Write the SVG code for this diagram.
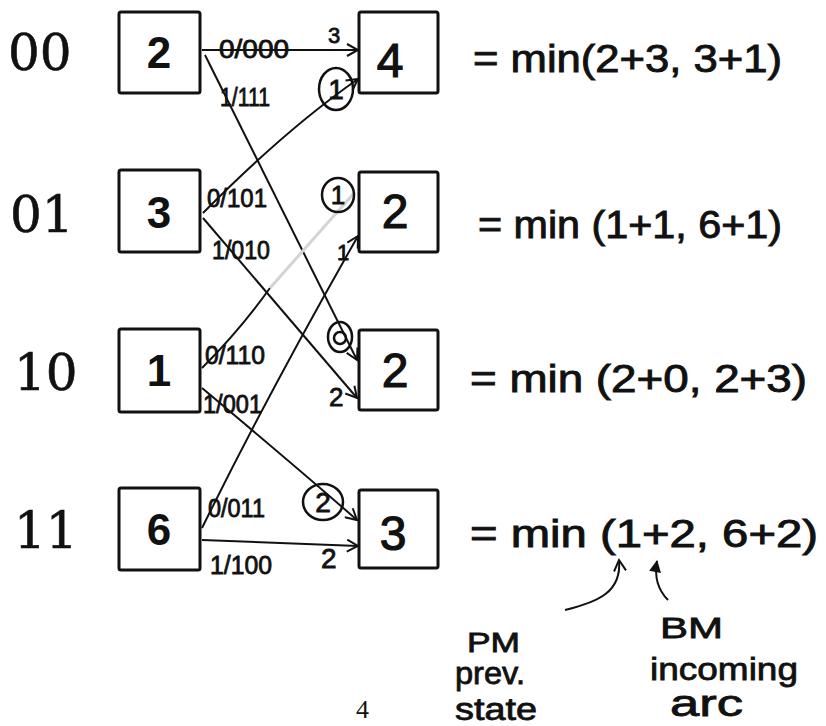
<svg xmlns="http://www.w3.org/2000/svg" width="826" height="726" viewBox="0 0 826 726">
<style>
.box{fill:#fff;stroke:#111;stroke-width:3}
.state{font-family:"DejaVu Serif",serif;font-size:50px;fill:#111;stroke:#111;stroke-width:0.6}
.pm{font-family:"Liberation Sans",Arial,sans-serif;font-weight:bold;font-size:44px;fill:#111;text-anchor:middle}
.hw{font-family:"Liberation Sans",Arial,sans-serif;fill:#111;stroke:#111;stroke-width:0.8}
.val{font-size:48px;text-anchor:middle;stroke-width:1.2}
.lbl{font-size:25px}
.eq{font-size:38px;stroke-width:0.9}
.edge{fill:none;stroke:#111;stroke-width:2}
.circ{fill:none;stroke:#111;stroke-width:2.5}
</style>
<defs>
<marker id="arr" viewBox="0 0 14 14" refX="12" refY="7" markerWidth="14" markerHeight="14" markerUnits="userSpaceOnUse" orient="auto">
<path d="M1,1 L12,7 L1,13" fill="none" stroke="#111" stroke-width="2"/>
</marker>
<marker id="tri" viewBox="0 0 14 14" refX="12" refY="7" markerWidth="14" markerHeight="14" markerUnits="userSpaceOnUse" orient="auto">
<path d="M1,1 L13,7 L1,13 Z" fill="#111"/>
</marker>
</defs>

<g id="connectors">
<path class="edge" d="M202,50 L358,50" marker-end="url(#arr)"/>
<path class="edge" d="M205,55 L357,360" marker-end="url(#arr)"/>
<path class="edge" d="M203,213 Q285,130 358,79" marker-end="url(#arr)"/>
<path class="edge" d="M203,218 L357,398" marker-end="url(#arr)"/>
<path class="edge" d="M202,368 Q240,330 270,288"/>
<path d="M270,288 L355,192" fill="none" stroke="#d4d4d4" stroke-width="3"/>
<path class="edge" d="M202,388 Q300,470 357,520" marker-end="url(#arr)"/>
<path class="edge" d="M202,528 Q270,390 358,236" marker-end="url(#arr)"/>
<path class="edge" d="M202,540 L358,546" marker-end="url(#arr)"/>

<g class="hw lbl">
<text x="219" y="58" textLength="70" lengthAdjust="spacingAndGlyphs">0/000</text>
<text x="328" y="43" font-size="22">3</text>
<text x="220" y="106" textLength="50" lengthAdjust="spacingAndGlyphs">1/111</text>
<text x="207" y="207" textLength="60" lengthAdjust="spacingAndGlyphs">0/101</text>
<text x="212" y="259" textLength="58" lengthAdjust="spacingAndGlyphs">1/010</text>
<text x="337" y="260" font-size="22">1</text>
<text x="205" y="364" textLength="60" lengthAdjust="spacingAndGlyphs">0/110</text>
<text x="203" y="413" textLength="59" lengthAdjust="spacingAndGlyphs">1/001</text>
<text x="329" y="406" font-size="26">2</text>
<text x="208" y="517" textLength="57" lengthAdjust="spacingAndGlyphs">0/011</text>
<text x="210" y="574" textLength="62" lengthAdjust="spacingAndGlyphs">1/100</text>
<text x="321" y="568" font-size="28">2</text>
</g>

<ellipse class="circ" cx="336" cy="89" rx="17" ry="21"/>
<text class="hw" x="336" y="99" font-size="28" text-anchor="middle">1</text>
<ellipse class="circ" cx="338" cy="195" rx="16" ry="17"/>
<text class="hw" x="338" y="204" font-size="26" text-anchor="middle">1</text>
<ellipse class="circ" cx="340" cy="337" rx="12" ry="15"/>
<ellipse class="circ" cx="340" cy="338" rx="6" ry="6"/>
<ellipse class="circ" cx="323" cy="502" rx="20" ry="18"/>
<text class="hw" x="323" y="512" font-size="28" text-anchor="middle">2</text>
</g>

<g id="s00-prev">
<text class="state" x="8" y="70" stroke-width="1.2">00</text>
<rect class="box" x="119" y="12" width="81" height="81" rx="2"/>
<text class="pm" x="159" y="68">2</text>
</g>
<g id="s01-prev">
<text class="state" x="10" y="232">01</text>
<rect class="box" x="119" y="170" width="81" height="82" rx="2"/>
<text class="pm" x="159" y="228">3</text>
</g>
<g id="s10-prev">
<text class="state" x="14" y="390">10</text>
<rect class="box" x="119" y="329" width="81" height="83" rx="2"/>
<text class="pm" x="159" y="386">1</text>
</g>
<g id="s11-prev">
<text class="state" x="14" y="548">11</text>
<rect class="box" x="119" y="488" width="81" height="82" rx="2"/>
<text class="pm" x="159" y="545">6</text>
</g>

<g id="s00-next">
<rect class="box" x="359" y="12" width="79" height="81" rx="2"/>
<text class="hw val" x="390" y="77" font-size="52">4</text>
<text class="hw eq" x="473" y="72" textLength="309" lengthAdjust="spacingAndGlyphs">= min(2+3, 3+1)</text>
</g>
<g id="s01-next">
<rect class="box" x="359" y="172" width="79" height="80" rx="2"/>
<text class="hw val" x="395" y="228" font-size="42">2</text>
<text class="hw eq" x="478" y="238" font-size="34" textLength="304" lengthAdjust="spacingAndGlyphs">= min (1+1, 6+1)</text>
</g>
<g id="s10-next">
<rect class="box" x="359" y="330" width="79" height="80" rx="2"/>
<text class="hw val" x="395" y="387" font-size="42">2</text>
<text class="hw eq" x="470" y="392" font-size="42" textLength="337" lengthAdjust="spacingAndGlyphs">= min (2+0, 2+3)</text>
</g>
<g id="s11-next">
<rect class="box" x="359" y="490" width="79" height="78" rx="2"/>
<text class="hw val" x="393" y="550" font-size="50">3</text>
<text class="hw eq" x="470" y="547" font-size="40" textLength="348" lengthAdjust="spacingAndGlyphs">= min (1+2, 6+2)</text>
</g>

<g id="annotation-pm">
<path class="edge" d="M565,610 C598,602 622,592 619,560" stroke-width="3" marker-end="url(#arr)"/>
<text class="hw" x="467" y="652" font-size="28" textLength="53" lengthAdjust="spacingAndGlyphs">PM</text>
<text class="hw" x="455" y="684" font-size="32" textLength="70" lengthAdjust="spacingAndGlyphs">prev.</text>
<text class="hw" x="455" y="720" font-size="32" textLength="82" lengthAdjust="spacingAndGlyphs">state</text>
</g>
<g id="annotation-bm">
<path class="edge" d="M668,600 C658,590 654,578 657,561" stroke-width="3" marker-end="url(#tri)"/>
<text class="hw" x="660" y="638" font-size="30" textLength="63" lengthAdjust="spacingAndGlyphs">BM</text>
<text class="hw" x="650" y="680" font-size="32" textLength="148" lengthAdjust="spacingAndGlyphs">incoming</text>
<text class="hw" x="670" y="716" font-size="36" textLength="73" lengthAdjust="spacingAndGlyphs">arc</text>
</g>

<text x="356" y="718" font-family="'Liberation Serif',serif" font-size="26" fill="#111">4</text>
</svg>
